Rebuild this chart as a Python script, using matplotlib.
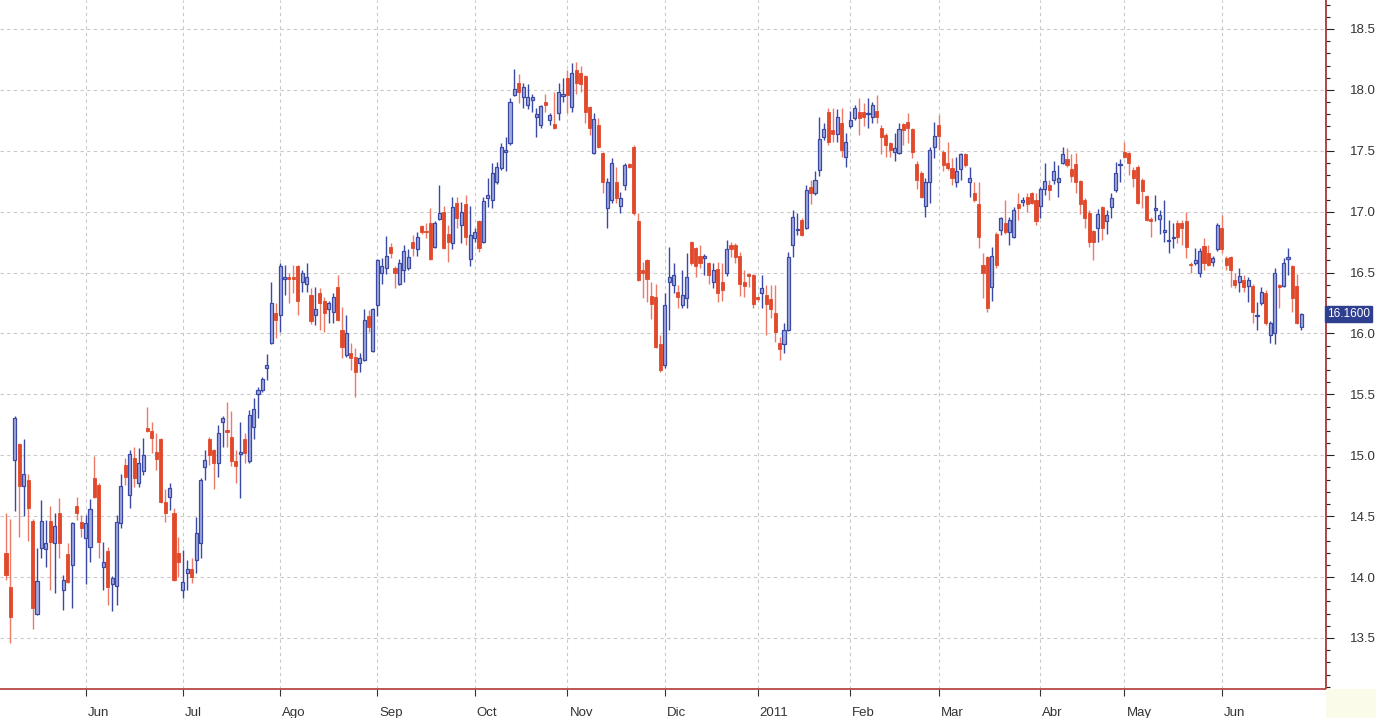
import numpy as np
import pandas as pd
import matplotlib
matplotlib.use("Agg")
import matplotlib.pyplot as plt
import matplotlib.transforms as mtransforms
from matplotlib.patches import Rectangle

opens = [14.20,13.92,14.96,15.09,14.75,14.80,14.46,13.70,14.24,14.23,
         14.46,14.28,14.53,13.89,14.19,14.10,14.58,14.45,14.32,14.25,
         14.81,14.76,14.08,14.21,13.94,13.93,14.44,14.92,14.67,14.98,
         14.77,14.87,15.22,15.20,15.03,15.13,14.62,14.66,14.53,14.20,
         13.89,14.03,14.07,14.14,14.28,14.90,15.13,15.04,14.94,15.27,
         15.21,15.15,14.95,15.01,15.13,14.95,15.23,15.50,15.54,15.72,
         15.92,16.17,16.15,16.45,16.46,16.46,16.55,16.42,16.41,16.32,
         16.15,16.33,16.27,16.20,16.18,16.38,16.03,15.82,15.84,15.81,
         15.76,15.78,16.14,15.86,16.23,16.50,16.54,16.71,16.54,16.41,
         16.52,16.54,16.75,16.69,16.88,16.84,16.91,16.71,16.94,17.00,
         16.82,16.74,17.07,16.89,17.06,16.61,16.78,16.92,16.75,17.11,
         17.10,17.24,17.36,17.49,17.56,17.96,18.06,17.94,17.88,17.92,
         17.78,17.71,17.90,17.75,17.72,17.81,17.95,18.10,17.86,18.16,
         18.14,18.11,17.86,17.48,17.71,17.48,17.03,17.10,17.24,17.05,
         17.22,17.39,17.53,16.92,16.52,16.60,16.31,16.30,15.91,15.74,
         16.42,16.40,16.34,16.23,16.29,16.75,16.70,16.64,16.62,16.58,
         16.42,16.53,16.42,16.50,16.73,16.73,16.64,16.42,16.49,16.48,
         16.30,16.33,16.32,16.28,16.17,15.92,15.91,16.03,16.73,16.85,
         16.93,16.87,17.20,17.15,17.34,17.61,17.82,17.67,17.64,17.73,
         17.45,17.70,17.77,17.82,17.82,17.80,17.78,17.83,17.69,17.63,
         17.56,17.49,17.48,17.72,17.74,17.68,17.39,17.32,17.05,17.24,
         17.53,17.71,17.49,17.40,17.36,17.24,17.35,17.47,17.24,17.15,
         17.06,16.56,16.63,16.38,16.82,16.85,16.91,16.83,16.79,17.06,
         17.08,17.12,17.15,17.10,17.05,17.19,17.22,17.26,17.24,17.40,
         17.43,17.35,17.39,17.25,17.10,16.99,16.84,16.87,17.04,16.92,
         17.04,17.18,17.38,17.49,17.48,17.34,17.37,17.26,17.13,16.94,
         17.01,16.94,16.83,16.76,16.78,16.91,16.91,16.92,16.57,16.58,
         16.50,16.72,16.66,16.59,16.69,16.87,16.62,16.63,16.44,16.42,
         16.44,16.39,16.39,16.14,16.25,16.33,15.99,16.00,16.40,16.39,
         16.61,16.55,16.39,16.05]

highs = [14.53,14.48,15.32,15.10,15.13,14.85,14.48,14.24,14.63,14.47,
         14.58,14.53,14.65,14.02,14.28,14.45,14.66,14.51,14.51,14.64,
         14.99,14.77,14.29,14.25,14.01,14.51,14.85,14.98,15.04,15.07,
         15.06,15.14,15.40,15.27,15.18,15.14,14.72,14.77,14.57,14.33,
         14.22,14.14,14.16,14.49,14.81,15.04,15.15,15.05,15.25,15.32,
         15.44,15.36,15.04,15.27,15.18,15.37,15.47,15.56,15.64,15.83,
         16.42,16.25,16.58,16.56,16.50,16.56,16.56,16.52,16.58,16.37,
         16.38,16.37,16.30,16.27,16.33,16.48,16.22,16.15,15.92,15.88,
         15.84,16.20,16.19,16.21,16.61,16.62,16.80,16.74,16.55,16.61,
         16.73,16.69,16.81,16.83,16.89,16.91,17.03,16.92,17.22,17.05,
         16.89,17.12,17.12,17.08,17.14,17.05,16.87,16.93,17.12,17.28,
         17.40,17.41,17.56,17.61,17.93,18.17,18.13,18.06,18.05,17.97,
         17.85,17.88,17.97,17.81,17.98,18.06,18.10,18.16,18.22,18.23,
         18.20,18.12,17.87,17.81,17.77,17.49,17.28,17.44,17.37,17.16,
         17.40,17.40,17.55,16.99,16.59,16.61,16.42,16.41,15.99,16.33,
         16.71,16.58,16.40,16.52,16.66,16.76,16.71,16.73,16.65,16.59,
         16.58,16.59,16.58,16.77,16.75,16.74,16.67,16.52,16.50,16.49,
         16.31,16.48,16.40,16.40,16.40,15.97,16.09,16.67,17.01,16.99,
         16.95,17.22,17.26,17.33,17.78,17.73,17.85,17.85,17.84,17.85,
         17.65,17.83,17.88,17.93,17.89,17.93,17.90,17.96,17.71,17.65,
         17.57,17.65,17.73,17.73,17.81,17.69,17.42,17.33,17.28,17.53,
         17.74,17.79,17.51,17.57,17.44,17.45,17.48,17.48,17.37,17.24,
         17.24,16.66,16.64,16.71,16.83,16.96,17.10,16.96,17.04,17.15,
         17.12,17.15,17.16,17.15,17.20,17.40,17.26,17.42,17.38,17.53,
         17.52,17.47,17.48,17.26,17.11,17.01,16.85,17.02,17.05,17.01,
         17.15,17.41,17.43,17.57,17.49,17.37,17.38,17.28,17.14,16.96,
         17.14,17.01,17.10,16.93,16.91,16.93,16.93,17.00,16.59,16.70,
         16.70,16.78,16.73,16.64,16.91,16.97,16.64,16.64,16.50,16.54,
         16.48,16.46,16.41,16.26,16.38,16.36,16.10,16.54,16.41,16.62,
         16.70,16.56,16.49,16.17]

lows = [13.98,13.46,14.54,14.33,14.50,14.30,13.57,13.69,14.16,14.08,
        13.89,13.87,14.16,13.73,13.95,13.75,14.47,14.33,13.94,14.12,
        14.65,14.16,13.89,13.77,13.72,13.77,14.40,14.76,14.57,14.74,
        14.74,14.84,15.19,15.02,14.88,14.61,14.45,14.55,13.97,14.00,
        13.83,13.89,13.95,14.03,14.16,14.80,14.92,14.72,14.82,15.07,
        15.07,14.91,14.77,14.65,14.94,14.94,15.13,15.31,15.52,15.62,
        15.91,15.96,16.01,16.32,16.25,16.33,16.15,16.34,16.34,16.08,
        16.07,16.03,16.01,16.09,16.09,16.10,15.80,15.81,15.70,15.48,
        15.68,15.77,16.01,15.85,16.14,16.41,16.49,16.62,16.37,16.40,
        16.42,16.52,16.64,16.64,16.82,16.78,16.60,16.70,16.93,16.69,
        16.59,16.69,16.87,16.74,16.73,16.55,16.75,16.67,16.74,17.04,
        17.03,17.23,17.34,17.33,17.55,17.95,17.89,17.85,17.84,17.82,
        17.61,17.69,17.82,17.71,17.68,17.75,17.90,17.81,17.82,17.97,
        17.98,17.73,17.63,17.47,17.52,17.15,16.87,17.07,17.07,16.99,
        17.18,17.36,16.97,16.43,16.29,16.26,16.12,15.88,15.68,15.72,
        16.03,16.33,16.21,16.21,16.21,16.56,16.46,16.54,16.48,16.41,
        16.37,16.26,16.27,16.47,16.63,16.58,16.31,16.30,16.38,16.21,
        16.27,16.21,15.99,16.13,15.93,15.78,15.84,16.02,16.63,16.81,
        16.80,16.86,17.06,17.14,17.29,17.59,17.55,17.57,17.57,17.45,
        17.37,17.69,17.75,17.63,17.70,17.69,17.73,17.73,17.47,17.45,
        17.45,17.42,17.47,17.55,17.56,17.44,17.19,17.11,16.96,17.07,
        17.44,17.51,17.33,17.34,17.22,17.20,17.26,17.37,17.12,17.08,
        16.70,16.29,16.18,16.27,16.54,16.81,16.82,16.73,16.78,16.93,
        17.05,17.00,17.06,16.89,16.95,17.14,17.10,17.23,17.12,17.39,
        17.37,17.24,17.15,16.98,16.87,16.71,16.60,16.75,16.77,16.82,
        16.95,17.16,17.24,17.44,17.30,17.20,17.06,17.03,16.92,16.79,
        16.92,16.82,16.75,16.66,16.70,16.74,16.73,16.62,16.50,16.56,
        16.46,16.52,16.55,16.55,16.68,16.66,16.52,16.38,16.37,16.34,
        16.34,16.26,16.09,16.03,16.23,16.07,15.92,15.91,16.21,16.38,
        16.48,16.18,16.08,16.03]

closes = [14.02,13.67,15.31,14.75,14.85,14.57,13.75,13.97,14.46,14.28,
          14.29,14.42,14.28,13.98,13.96,14.44,14.53,14.40,14.44,14.56,
          14.66,14.29,14.12,13.92,13.99,14.45,14.75,14.82,15.01,14.81,
          14.94,15.00,15.20,15.14,14.97,14.62,14.53,14.73,13.98,14.12,
          13.96,14.07,14.00,14.36,14.80,14.96,15.00,14.94,15.18,15.31,
          15.19,14.95,14.91,15.03,15.02,15.33,15.38,15.54,15.63,15.74,
          16.25,16.11,16.55,16.46,16.45,16.45,16.27,16.50,16.46,16.10,
          16.20,16.25,16.17,16.25,16.30,16.11,15.89,16.00,15.80,15.68,
          15.80,16.11,16.05,16.20,16.60,16.55,16.64,16.66,16.50,16.58,
          16.68,16.63,16.70,16.79,16.83,16.83,16.61,16.91,16.99,16.70,
          16.75,17.04,16.95,17.00,16.79,16.81,16.83,16.70,17.09,17.14,
          17.32,17.37,17.53,17.51,17.90,18.01,17.98,18.02,17.94,17.94,
          17.80,17.87,17.88,17.79,17.69,17.98,17.97,17.96,18.14,18.06,
          18.05,17.82,17.69,17.76,17.53,17.24,17.24,17.40,17.11,17.11,
          17.38,17.37,16.99,16.44,16.50,16.45,16.24,15.89,15.70,16.23,
          16.46,16.48,16.30,16.32,16.46,16.58,16.55,16.58,16.64,16.48,
          16.52,16.33,16.36,16.69,16.69,16.63,16.41,16.39,16.47,16.24,
          16.28,16.37,16.24,16.20,16.01,15.87,16.03,16.63,16.96,16.86,
          16.81,17.18,17.15,17.26,17.60,17.68,17.57,17.64,17.78,17.51,
          17.57,17.75,17.85,17.77,17.78,17.81,17.88,17.78,17.61,17.55,
          17.51,17.52,17.68,17.67,17.69,17.49,17.26,17.12,17.24,17.51,
          17.62,17.62,17.38,17.36,17.28,17.33,17.47,17.38,17.28,17.10,
          16.79,16.50,16.21,16.64,16.56,16.95,16.83,16.93,17.01,17.03,
          17.10,17.06,17.07,16.92,17.19,17.25,17.18,17.33,17.28,17.47,
          17.38,17.29,17.24,17.06,16.95,16.75,16.75,16.98,16.87,16.97,
          17.11,17.32,17.39,17.45,17.40,17.28,17.07,17.17,16.93,16.92,
          17.03,16.97,16.85,16.77,16.79,16.79,16.87,16.71,16.56,16.60,
          16.68,16.58,16.56,16.62,16.89,16.69,16.56,16.52,16.40,16.47,
          16.38,16.44,16.18,16.15,16.34,16.09,16.09,16.50,16.38,16.58,
          16.63,16.29,16.09,16.16]

holidays = ["2010-12-24", "2010-12-31", "2011-04-22", "2011-04-25"]
first_day = "2010-05-06"
last_day = "2011-06-27"
month_labels = ["Jun", "Jul", "Ago", "Sep", "Oct", "Nov", "Dic",
                "2011", "Feb", "Mar", "Abr", "May", "Jun"]
y_ticks = [13.5, 14.0, 14.5, 15.0, 15.5, 16.0, 16.5, 17.0, 17.5, 18.0, 18.5]

dates = pd.bdate_range(first_day, last_day)
dates = dates[~dates.isin(pd.to_datetime(holidays))]

O = np.array(opens); H = np.array(highs); L = np.array(lows); C = np.array(closes)
n = len(C)
x = np.arange(n)
month_pos = [i for i in range(1, len(dates)) if dates[i].month != dates[i - 1].month]

plt.rcParams["font.family"] = ["Liberation Sans", "DejaVu Sans"]

W, Hpx = 1376, 718
fig = plt.figure(figsize=(W / 100, Hpx / 100), dpi=100)
fig.patch.set_facecolor("white")
ax_right_px, ax_bottom_px = 1326, 689
ax = fig.add_axes([0, (Hpx - ax_bottom_px) / Hpx, ax_right_px / W, ax_bottom_px / Hpx])
ax.set_facecolor("white")

# beige corner under the price scale
fig.patches.append(Rectangle((ax_right_px / W, 0), 1 - ax_right_px / W, (Hpx - ax_bottom_px) / Hpx,
                             transform=fig.transFigure, facecolor="#fbfbe9", edgecolor="none", zorder=0))

blue_edge = "#3a48a6"
blue_fill = "#a3abdb"
red_body = "#e0492b"
red_wick = "#eb7a66"

up = C >= O
ax.vlines(x[up], L[up], H[up], color=blue_edge, lw=1.0, zorder=2)
ax.vlines(x[~up], L[~up], H[~up], color=red_wick, lw=1.0, zorder=2)
ax.bar(x[up], C[up] - O[up], bottom=O[up], width=0.7, facecolor=blue_fill,
       edgecolor=blue_edge, linewidth=0.9, zorder=3)
ax.bar(x[~up], O[~up] - C[~up], bottom=C[~up], width=0.7, facecolor=red_body,
       edgecolor=red_body, linewidth=0.6, zorder=3)

ax.set_xlim(-1.36, 298.6)
ax.set_ylim(13.081, 18.738)

# grid
grid_kw = dict(color="#c9c9c9", lw=0.8, linestyle=(0, (3, 3)), zorder=1)
for yv in y_ticks:
    ax.axhline(yv, **grid_kw)
for xp in month_pos:
    ax.axvline(xp, **grid_kw)

# y axis on right
ax.yaxis.tick_right()
ax.set_yticks(y_ticks)
ax.set_yticklabels([f"{v:.1f}" for v in y_ticks])
ax.set_yticks(np.arange(13.1, 18.75, 0.1), minor=True)
ax.tick_params(axis="y", which="major", length=6, width=0.8, color="#222222",
               labelsize=9.5, labelcolor="#333333", pad=11)
ax.tick_params(axis="y", which="minor", length=3, width=0.8, color="#222222")

# x axis
ax.set_xticks(month_pos)
ax.set_xticklabels(month_labels)
ax.tick_params(axis="x", which="major", length=5, width=0.8, color="#333333",
               labelsize=9.5, labelcolor="#333333", pad=8)
offset = mtransforms.ScaledTranslation(2 / 100, 0, fig.dpi_scale_trans)
for lbl in ax.get_xticklabels():
    lbl.set_horizontalalignment("left")
    lbl.set_transform(lbl.get_transform() + offset)

for s in ["top", "left"]:
    ax.spines[s].set_visible(False)
ax.spines["right"].set_color("#a8383a")
ax.spines["right"].set_linewidth(1.3)
ax.spines["bottom"].set_color("#b84848")
ax.spines["bottom"].set_linewidth(1.3)

# last price tag
trans = mtransforms.blended_transform_factory(ax.transAxes, ax.transData)
ax.text(1.0008, C[-1], f"{C[-1]:.4f}", transform=trans, ha="left", va="center",
        fontsize=8.5, color="white", clip_on=False, zorder=5,
        bbox=dict(boxstyle="square,pad=0.18", facecolor="#2f3f8f", edgecolor="#2f3f8f"))

fig.savefig("out.png", dpi=100)
